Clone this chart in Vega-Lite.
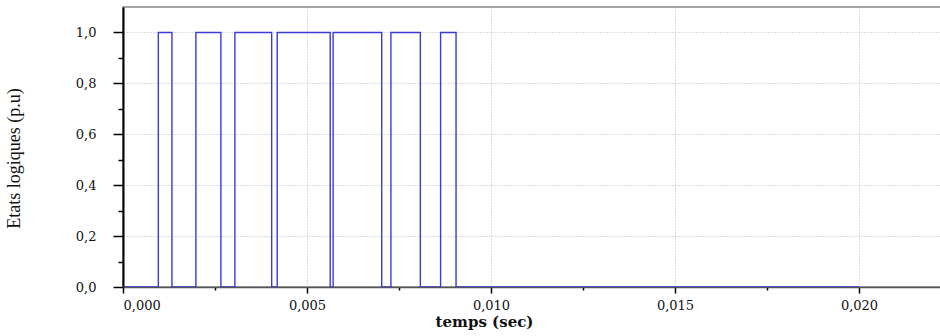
{
  "$schema": "https://vega.github.io/schema/vega-lite/v6.json",
  "width": 818,
  "height": 280,
  "autosize": {"type": "none"},
  "padding": {"left": 123, "top": 7, "right": 0, "bottom": 49},
  "background": "white",
  "config": {
    "locale": {"number": {"decimal": ",", "thousands": ".", "grouping": [3], "currency": ["", ""]}},
    "view": {"stroke": "#888888", "strokeWidth": 1.5},
    "axis": {
      "labelFont": "DejaVu Serif",
      "labelFontSize": 13,
      "labelColor": "#111111",
      "gridDash": [1, 2],
      "gridColor": "#bbbbbb",
      "gridWidth": 1,
      "tickColor": "#000000",
      "tickWidth": 1.5
    }
  },
  "data": {
    "values": [
      {"t": 0, "v": 0},
      {"t": 0.00096, "v": 1},
      {"t": 0.00133, "v": 0},
      {"t": 0.00198, "v": 1},
      {"t": 0.00266, "v": 0},
      {"t": 0.00304, "v": 1},
      {"t": 0.00404, "v": 0},
      {"t": 0.00419, "v": 1},
      {"t": 0.00563, "v": 0},
      {"t": 0.00571, "v": 1},
      {"t": 0.00703, "v": 0},
      {"t": 0.00728, "v": 1},
      {"t": 0.00808, "v": 0},
      {"t": 0.00863, "v": 1},
      {"t": 0.00905, "v": 0},
      {"t": 0.02, "v": 0}
    ]
  },
  "mark": {"type": "line", "interpolate": "step-after", "color": "#3b3bd6", "strokeWidth": 1.4, "clip": true},
  "encoding": {
    "x": {
      "field": "t",
      "type": "quantitative",
      "scale": {"domain": [0, 0.022228], "nice": false, "zero": false},
      "axis": {
        "values": [0, 0.0025, 0.005, 0.0075, 0.01, 0.0125, 0.015, 0.0175, 0.02],
        "format": ".3f",
        "labelExpr": "abs(datum.value/0.005 - round(datum.value/0.005)) < 1e-6 ? datum.label : ''",
        "tickSize": {"condition": {"test": "abs(datum.value/0.005 - round(datum.value/0.005)) < 1e-6", "value": 6}, "value": 3},
        "gridOpacity": {"condition": {"test": "abs(datum.value/0.005 - round(datum.value/0.005)) < 1e-6", "value": 1}, "value": 0},
        "labelPadding": 6,
        "domainColor": "#555555",
        "domainWidth": 1.5,
        "title": "temps (sec)",
        "titleFont": "DejaVu Serif",
        "titleFontSize": 15,
        "titleFontWeight": "bold",
        "titleColor": "#111111",
        "titleX": 361,
        "titleY": 34,
        "titleBaseline": "middle",
        "titleAlign": "center"
      }
    },
    "y": {
      "field": "v",
      "type": "quantitative",
      "scale": {"domain": [0, 1.1], "nice": false, "zero": false},
      "axis": {
        "values": [0, 0.1, 0.2, 0.3, 0.4, 0.5, 0.6, 0.7, 0.8, 0.9, 1.0],
        "format": ".1f",
        "labelExpr": "abs(datum.value/0.2 - round(datum.value/0.2)) < 1e-6 ? datum.label : ''",
        "tickSize": {"condition": {"test": "abs(datum.value/0.2 - round(datum.value/0.2)) < 1e-6", "value": 10}, "value": 5},
        "gridOpacity": {"condition": {"test": "abs(datum.value/0.2 - round(datum.value/0.2)) < 1e-6", "value": 1}, "value": 0},
        "labelPadding": 17,
        "domainColor": "#000000",
        "domainWidth": 2,
        "title": "Etats logiques (p.u)",
        "titleFont": "Liberation Serif",
        "titleFontSize": 18,
        "titleFontWeight": "normal",
        "titleColor": "#111111",
        "titleX": -109,
        "titleY": 151,
        "titleBaseline": "middle",
        "titleAlign": "center",
        "titleAngle": -90
      }
    }
  }
}
